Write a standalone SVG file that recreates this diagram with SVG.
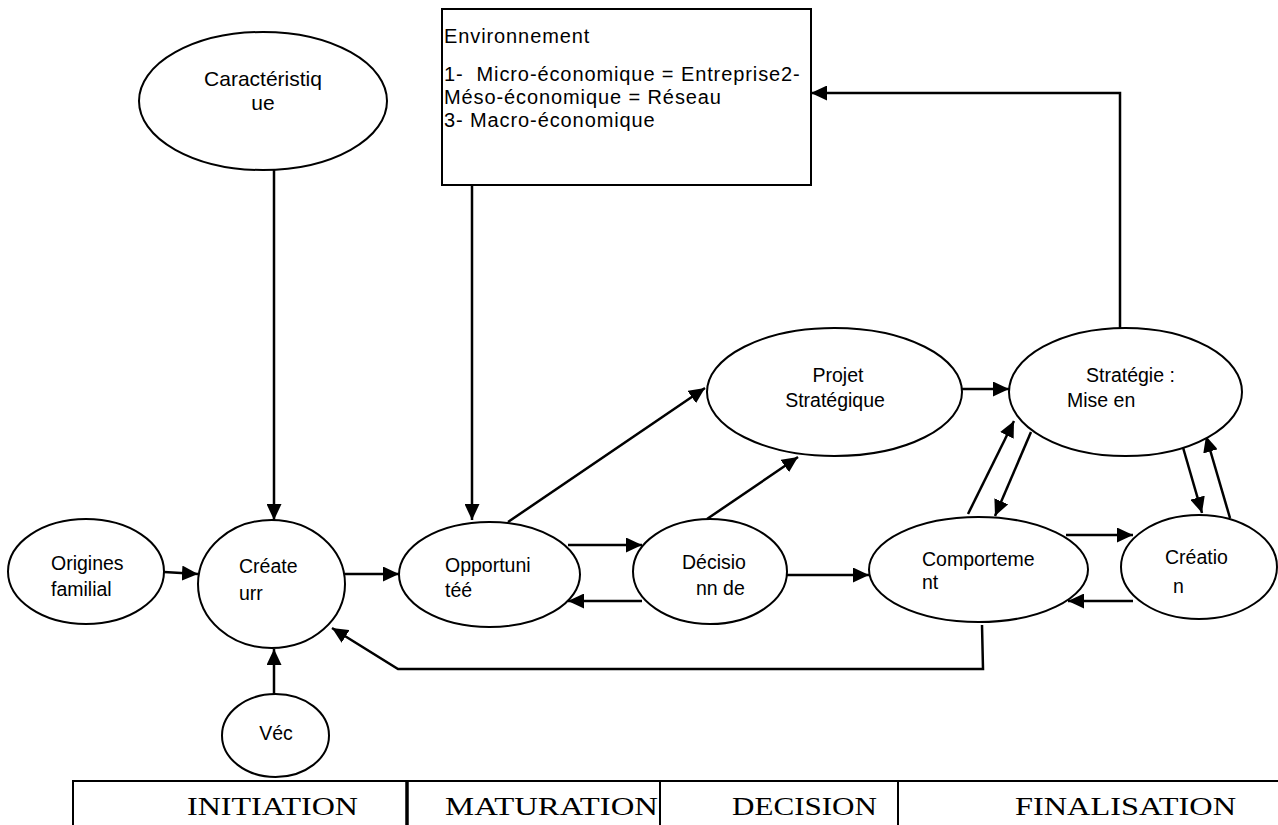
<svg xmlns="http://www.w3.org/2000/svg" width="1278" height="825" viewBox="0 0 1278 825">
<style>
.n{fill:#fff;stroke:#000;stroke-width:2}
.t{font-family:"Liberation Sans",Arial,sans-serif;font-size:19.5px;fill:#000}
.tc{text-anchor:middle}
.env{font-family:"Liberation Sans",Arial,sans-serif;font-size:20px;letter-spacing:0.9px;fill:#000}
.c{fill:none;stroke:#000;stroke-width:2.5;marker-end:url(#ah)}
.ph{font-family:"Liberation Serif","Times New Roman",serif;font-size:25px;fill:#000}
.tb{stroke:#000;stroke-width:2;fill:none}
</style>
<defs>
<marker id="ah" markerUnits="userSpaceOnUse" markerWidth="16" markerHeight="15" refX="16" refY="7.5" orient="auto">
<path d="M0,0 L16,7.5 L0,15 z" fill="#000"/>
</marker>
</defs>

<g id="connectors">
<path class="c" d="M274,170 L274,520"/>
<path class="c" d="M472,185 L472,520"/>
<path class="c" d="M1120,328 L1120,93 L811,93"/>
<path class="c" d="M164,572 L198,574"/>
<path class="c" d="M345,574 L399,574"/>
<path class="c" d="M274,694 L274,649"/>
<path class="c" d="M982,625 L983,669 L398,669 L332,628"/>
<path class="c" d="M508,522 L705,388"/>
<path class="c" d="M707,519 L798,457"/>
<path class="c" d="M568,545 L642,545"/>
<path class="c" d="M642,601 L568,601"/>
<path class="c" d="M787,575 L869,575"/>
<path class="c" d="M962,389 L1009,389"/>
<path class="c" d="M968,514 L1014,421"/>
<path class="c" d="M1031,432 L995,516"/>
<path class="c" d="M1066,535 L1133,535"/>
<path class="c" d="M1133,601 L1068,601"/>
<path class="c" d="M1182,444 L1202,513"/>
<path class="c" d="M1230,518 L1206,436"/>
</g>

<g id="caracteristique">
<ellipse class="n" cx="263" cy="101" rx="124" ry="69"/>
<text class="t tc" x="263" y="86" style="font-size:21px">Caractéristiq</text>
<text class="t tc" x="263" y="110" style="font-size:21px">ue</text>
</g>

<g id="environnement">
<rect class="n" x="442" y="9" width="369" height="176"/>
<text class="env" x="444" y="43">Environnement</text>
<text class="env" x="444" y="81" xml:space="preserve">1-  Micro-économique = Entreprise2-</text>
<text class="env" x="444" y="104">Méso-économique = Réseau</text>
<text class="env" x="444" y="127">3- Macro-économique</text>
</g>

<g id="origines">
<ellipse class="n" cx="86" cy="571.5" rx="78" ry="52.5"/>
<text class="t" x="51" y="570">Origines</text>
<text class="t" x="51" y="596">familial</text>
</g>

<g id="createur">
<ellipse class="n" cx="271.5" cy="584" rx="73.5" ry="64"/>
<text class="t" x="239" y="573">Créate</text>
<text class="t" x="239" y="600">urr</text>
</g>

<g id="vec">
<ellipse class="n" cx="275.5" cy="735.5" rx="53.5" ry="41.5"/>
<text class="t tc" x="276" y="740">Véc</text>
</g>

<g id="opportunite">
<ellipse class="n" cx="489.5" cy="574.5" rx="90.5" ry="52.5"/>
<text class="t" x="445" y="572">Opportuni</text>
<text class="t" x="445" y="597">téé</text>
</g>

<g id="decision">
<ellipse class="n" cx="710" cy="571.5" rx="77" ry="52.5"/>
<text class="t" x="682" y="569">Décisio</text>
<text class="t" x="696" y="595">nn de</text>
</g>

<g id="projet">
<ellipse class="n" cx="834.5" cy="392" rx="127.5" ry="64"/>
<text class="t tc" x="838" y="382">Projet</text>
<text class="t tc" x="835" y="407">Stratégique</text>
</g>

<g id="strategie">
<ellipse class="n" cx="1125.5" cy="392" rx="116.5" ry="64"/>
<text class="t" x="1086" y="382">Stratégie :</text>
<text class="t" x="1067" y="407">Mise en</text>
</g>

<g id="comportement">
<ellipse class="n" cx="978.5" cy="569.5" rx="109.5" ry="52.5"/>
<text class="t" x="922" y="566">Comporteme</text>
<text class="t" x="922" y="588.5">nt</text>
</g>

<g id="creation">
<ellipse class="n" cx="1199" cy="567" rx="78" ry="52"/>
<text class="t" x="1165" y="564">Créatio</text>
<text class="t" x="1173" y="593">n</text>
</g>

<g id="phases">
<path class="tb" d="M73,826 L73,781 L1278,781"/>
<line x1="407" y1="781" x2="407" y2="826" stroke="#000" stroke-width="3.5"/>
<line class="tb" x1="660" y1="781" x2="660" y2="826"/>
<line class="tb" x1="898" y1="781" x2="898" y2="826"/>
<text class="ph" x="187" y="815" textLength="171" lengthAdjust="spacingAndGlyphs">INITIATION</text>
<text class="ph" x="445" y="815" textLength="213" lengthAdjust="spacingAndGlyphs">MATURATION</text>
<text class="ph" x="732" y="815" textLength="145" lengthAdjust="spacingAndGlyphs">DECISION</text>
<text class="ph" x="1015" y="815" textLength="221" lengthAdjust="spacingAndGlyphs">FINALISATION</text>
</g>
</svg>
